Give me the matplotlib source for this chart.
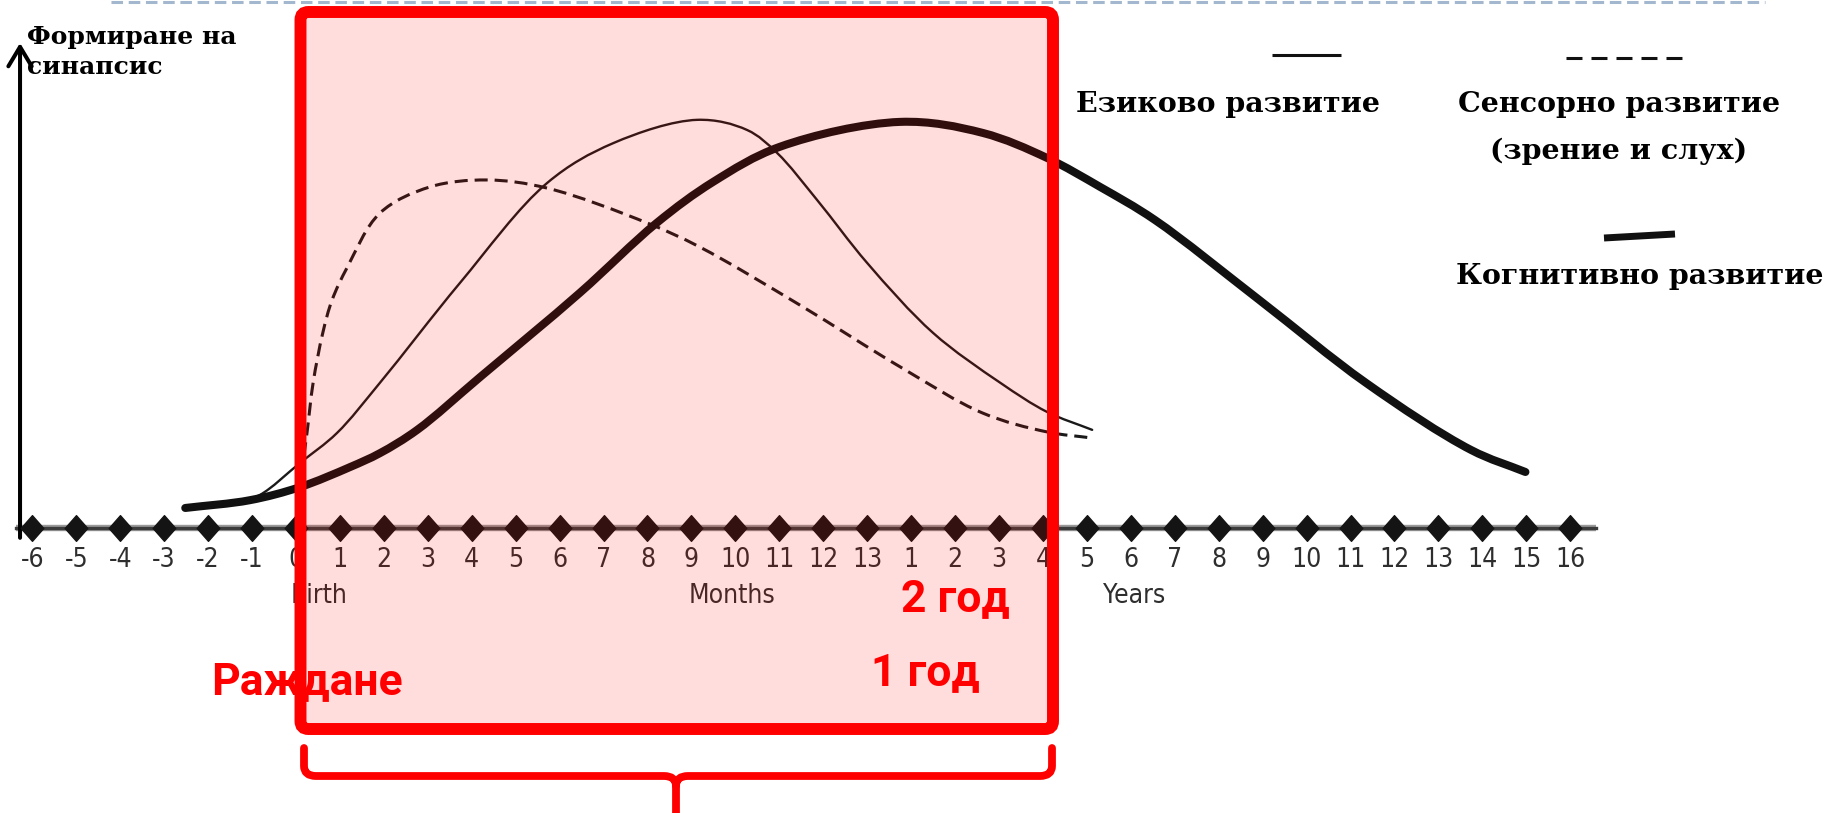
import numpy as np
import matplotlib
matplotlib.use("Agg")
import matplotlib.pyplot as plt
from matplotlib.path import Path
from matplotlib.patches import PathPatch, FancyBboxPatch
from matplotlib import font_manager

plt.rcParams["lines.scale_dashes"] = False

# ---------------- data ----------------
# axis: position index, 0 = birth
tick_labels = ["-6", "-5", "-4", "-3", "-2", "-1", "0",
               "1", "2", "3", "4", "5", "6", "7", "8", "9", "10", "11", "12", "13",
               "1", "2", "3", "4", "5", "6", "7", "8", "9", "10", "11", "12", "13",
               "14", "15", "16"]
tick_pos = np.arange(len(tick_labels)) - 6

# Когнитивно развитие (thick line)
cog_x = [-2.52, -1.05, 0.09, 1.23, 1.91, 2.76, 4.19, 6.46, 8.21, 9.49, 11.01,
         13.75, 15.63, 17.09, 18.30, 19.55, 21.93, 24.35, 26.74, 27.98]
cog_y = [4.9, 6.8, 10.0, 14.9, 18.3, 24.0, 36.9, 57.5, 74.6, 84.6, 93.2,
         99.3, 96.6, 90.5, 83.4, 75.3, 55.7, 35.5, 19.1, 13.7]

# Езиково развитие (thin line)
lang_x = [-1.38, -0.82, 0.09, 0.93, 1.91, 3.73, 5.72, 7.22, 9.13, 10.27,
          10.95, 11.86, 13.00, 14.50, 16.03, 17.09, 18.12]
lang_y = [6.1, 8.1, 15.9, 23.2, 35.5, 59.9, 84.4, 94.1, 99.8, 97.3,
          91.7, 80.2, 64.8, 47.7, 35.5, 28.4, 24.0]

# Сенсорно развитие (dashed line)
sens_x = [0.18, 0.25, 0.39, 0.61, 0.82, 1.17, 1.91, 3.05, 4.35, 5.72,
          7.99, 9.19, 11.47, 13.75, 15.63, 17.09, 18.12]
sens_y = [17.8, 23.2, 35.5, 47.7, 55.7, 63.8, 77.0, 83.4, 85.1, 83.1,
          74.6, 68.7, 54.5, 39.4, 28.1, 23.5, 22.0]

axis_title = ["Формиране на", "синапсис"]
legend_names = ["Езиково развитие", "Сенсорно развитие", "(зрение и слух)", "Когнитивно развитие"]
group_labels = ["Birth", "Months", "Years"]
group_pos = [0.52, 9.92, 19.07]
red_labels = ["Раждане", "2 год", "1 год"]

# ---------------- fonts ----------------
ttf = font_manager.fontManager.ttflist
names = {f.name for f in ttf}
narrow_kw = {"family": "Liberation Sans"}
if "Liberation Sans Narrow" in names:
    narrow_kw = {"family": "Liberation Sans Narrow"}
elif any(f.name == "DejaVu Sans" and str(f.stretch) in ("condensed", "semi-condensed")
         for f in ttf):
    narrow_kw = {"family": "DejaVu Sans", "stretch": "condensed"}
serif = "DejaVu Serif"
redfont = "Roboto" if "Roboto" in names else "DejaVu Sans"

# ---------------- figure ----------------
W, H, DPI = 1833, 813, 100
SX, SY = 43.94, 4.09        # pixels per data unit
fig = plt.figure(figsize=(W / DPI, H / DPI), dpi=DPI, facecolor="white")
ax = fig.add_axes([0, 0, 1, 1])
ax.set_xlim(-6.736, 34.98)
ax.set_ylim(-69.68, 129.1)
ax.patch.set_visible(False)
for s in ["top", "right", "left"]:
    ax.spines[s].set_visible(False)
x0, x1 = tick_pos[0] - 0.37, tick_pos[-1] + 0.59
ax.spines["bottom"].set_position(("data", 0))
ax.spines["bottom"].set_bounds(x0, x1)
ax.spines["bottom"].set_color("#3c3c3c")
ax.spines["bottom"].set_linewidth(2.4)
ax.set_yticks([])
ax.set_xticks(tick_pos, tick_labels)
ax.tick_params(axis="x", length=0, pad=13.5, labelsize=19, labelcolor="#2e2e2e")
for lab in ax.get_xticklabels():
    lab.set(**narrow_kw)

ax.plot([x0, x1], [0, 0], color="#9a9a9a", lw=4.6, solid_capstyle="butt", zorder=1)

diamond = Path([(0, 1), (0.88, 0), (0, -1), (-0.88, 0), (0, 1)],
               [Path.MOVETO, Path.LINETO, Path.LINETO, Path.LINETO, Path.CLOSEPOLY])
ax.plot(tick_pos, np.zeros(len(tick_pos)), ls="none", marker=diamond, ms=18.5,
        color="#141414", mec="#141414", zorder=4)

for gl, gp in zip(group_labels, group_pos):
    ax.text(gp, -18.3, gl, ha="center", va="baseline", fontsize=19,
            color="#2e2e2e", **narrow_kw)


def smooth_path(xs, ys):
    """Centripetal Catmull-Rom through the read points, as cubic Bezier."""
    S = np.array([SX, SY])
    Q = np.column_stack([xs, ys]).astype(float) * S
    Q = np.vstack([2 * Q[0] - Q[1], Q, 2 * Q[-1] - Q[-2]])
    d = np.sqrt(np.maximum(np.linalg.norm(np.diff(Q, axis=0), axis=1), 1e-9))
    t = np.concatenate([[0.0], np.cumsum(d)])
    verts = [Q[1]]
    codes = [Path.MOVETO]
    for i in range(1, len(Q) - 2):
        p0, p1, p2, p3 = Q[i - 1], Q[i], Q[i + 1], Q[i + 2]
        t0, t1, t2, t3 = t[i - 1], t[i], t[i + 1], t[i + 2]
        m1 = (p1 - p0) / (t1 - t0) - (p2 - p0) / (t2 - t0) + (p2 - p1) / (t2 - t1)
        m2 = (p2 - p1) / (t2 - t1) - (p3 - p1) / (t3 - t1) + (p3 - p2) / (t3 - t2)
        dt = t2 - t1
        verts += [p1 + m1 * dt / 3.0, p2 - m2 * dt / 3.0, p2]
        codes += [Path.CURVE4] * 3
    return Path(np.array(verts) / S, codes)


ax.add_patch(PathPatch(smooth_path(sens_x, sens_y), fill=False, ec="#1a1a1a",
                       lw=2.2, linestyle=(0, (9.4, 5.0)), capstyle="butt", zorder=3))
ax.add_patch(PathPatch(smooth_path(lang_x, lang_y), fill=False, ec="#1a1a1a",
                       lw=1.7, capstyle="round", zorder=3))
ax.add_patch(PathPatch(smooth_path(cog_x, cog_y), fill=False, ec="#111111",
                       lw=5.8, capstyle="round", joinstyle="round", zorder=3))

# y arrow
ax.annotate("", xy=(-6.28, 118.6), xytext=(-6.28, -2.4),
            arrowprops=dict(arrowstyle="->,head_length=0.7,head_width=0.42",
                            lw=2.9, color="black", mutation_scale=20,
                            shrinkA=0, shrinkB=0))

# ---------------- overlay (pixel coordinates) ----------------
pax = fig.add_axes([0, 0, 1, 1])
pax.set_xlim(0, W)
pax.set_ylim(H, 0)
pax.axis("off")
pax.patch.set_visible(False)

pax.plot([111, 1765], [2.5, 2.5], color="#a3b7ce", lw=2.2, dashes=(8.3, 4.1))

pax.text(27, 44, axis_title[0], ha="left", va="baseline", fontsize=18,
         family=serif, weight="bold", color="black")
pax.text(27, 74, axis_title[1], ha="left", va="baseline", fontsize=18,
         family=serif, weight="bold", color="black")

pax.add_patch(FancyBboxPatch((300.5, 12), 752.5, 717,
                             boxstyle="round,pad=0,rounding_size=8",
                             fc=(1, 0, 0, 0.135), ec=(1, 0, 0, 1), lw=8.6, zorder=5))

br = Path([(304, 748), (304, 766), (304, 776), (316, 776), (664, 776),
           (676, 776), (676, 786), (676, 820)],
          [Path.MOVETO, Path.LINETO, Path.CURVE3, Path.CURVE3, Path.LINETO,
           Path.CURVE3, Path.CURVE3, Path.LINETO])
br2 = Path([(1052, 748), (1052, 766), (1052, 776), (1040, 776), (688, 776),
            (676, 776), (676, 786)],
           [Path.MOVETO, Path.LINETO, Path.CURVE3, Path.CURVE3, Path.LINETO,
            Path.CURVE3, Path.CURVE3])
for b in (br, br2):
    pax.add_patch(PathPatch(b, fill=False, ec="#ff0000", lw=5.6,
                            capstyle="round", joinstyle="round", zorder=5))

pax.text(307, 694, red_labels[0], ha="center", va="baseline", fontsize=32,
         family=redfont, weight="bold", color="#ff0000", zorder=6)
pax.text(955, 611, red_labels[1], ha="center", va="baseline", fontsize=32,
         family=redfont, weight="bold", color="#ff0000", zorder=6)
pax.text(925, 685, red_labels[2], ha="center", va="baseline", fontsize=32,
         family=redfont, weight="bold", color="#ff0000", zorder=6)

pax.plot([1272, 1341], [55, 55], color="#111111", lw=2.2, solid_capstyle="butt")
pax.plot([1566, 1683], [58, 58], color="#111111", lw=2.2, dashes=(11.5, 6.5))
pax.plot([1604, 1675], [238, 234], color="#111111", lw=5.0, solid_capstyle="butt")

pax.text(1228, 112, legend_names[0], ha="center", va="baseline", fontsize=20.5,
         family=serif, weight="bold", color="black")
pax.text(1619, 112, legend_names[1], ha="center", va="baseline", fontsize=20.5,
         family=serif, weight="bold", color="black")
pax.text(1619, 159, legend_names[2], ha="center", va="baseline", fontsize=20.5,
         family=serif, weight="bold", color="black")
pax.text(1640, 284, legend_names[3], ha="center", va="baseline", fontsize=20.5,
         family=serif, weight="bold", color="black")

fig.savefig("out.png", dpi=DPI, facecolor="white")
